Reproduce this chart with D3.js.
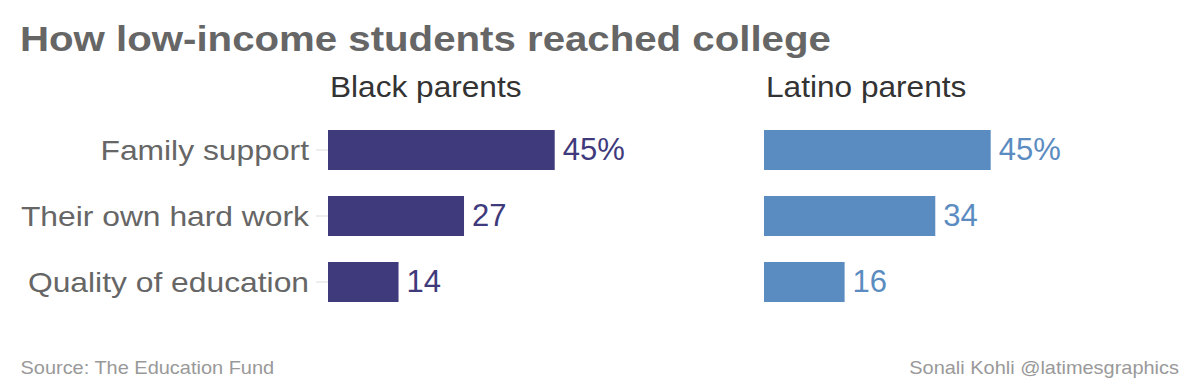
<!DOCTYPE html>
<html>
<head>
<meta charset="utf-8">
<script src="https://cdn.jsdelivr.net/npm/d3@7"></script>
<style>
  html, body { margin: 0; padding: 0; background: #fff; }
  svg text { font-family: "Liberation Sans", Arial, Helvetica, sans-serif; }
</style>
</head>
<body>
<svg id="chart" width="1200" height="382"></svg>
<script>
// ---- data ----
const categories = ["Family support", "Their own hard work", "Quality of education"];
const blackValues = [45, 27, 14];
const latinoValues = [45, 34, 16];
const panelTitles = ["Black parents", "Latino parents"];
const valueLabelsBlack = ["45%", "27", "14"];
const valueLabelsLatino = ["45%", "34", "16"];
const titleText = "How low-income students reached college";
const sourceText = "Source: The Education Fund";
const creditText = "Sonali Kohli @latimesgraphics";

// ---- layout ----
const svg = d3.select("#chart");

const y = d3.scaleBand()
  .domain(categories)
  .range([117, 315])
  .paddingInner(26 / 66)
  .paddingOuter(13 / 66);

const x = d3.scaleLinear().domain([0, 45]).range([0, 226.7]);

function stretch(sel, sx) {
  sel.each(function () {
    const len = this.getComputedTextLength();
    d3.select(this).attr("textLength", len * sx).attr("lengthAdjust", "spacingAndGlyphs");
  });
}

// title
const title = svg.append("text")
  .attr("x", 20).attr("y", 50.5)
  .attr("font-size", 35.5).attr("font-weight", "bold")
  .attr("fill", "#666")
  .text(titleText);
stretch(title, 1.2 * 33.5 / 35.5);

const panels = [
  { x0: 328, values: blackValues, labels: valueLabelsBlack, color: "#3f3a7b", title: panelTitles[0], ticks: true },
  { x0: 764, values: latinoValues, labels: valueLabelsLatino, color: "#5b8cc1", title: panelTitles[1], ticks: false }
];

panels.forEach(p => {
  const g = svg.append("g").attr("transform", `translate(${p.x0},0)`);

  const pt = g.append("text")
    .attr("x", 2).attr("y", 96.5)
    .attr("font-size", 30).attr("fill", "#333")
    .text(p.title);
  stretch(pt, 1.09 * 29 / 30);

  if (p.ticks) {
    const axis = d3.axisLeft(y).tickSize(12).tickPadding(7);
    const ax = g.append("g").call(axis);
    ax.select(".domain").remove();
    ax.selectAll(".tick line").attr("stroke", "#dddddd").attr("stroke-width", 1);
    ax.selectAll(".tick text")
      .attr("font-size", 28.5)
      .attr("fill", "#666")
      .attr("font-family", "Liberation Sans, Arial, sans-serif")
      .attr("dy", "0.35em");
    stretch(ax.selectAll(".tick text"), 1.2 * 26.5 / 28.5);
  }

  g.selectAll("rect.bar")
    .data(p.values)
    .join("rect")
    .attr("class", "bar")
    .attr("x", 0)
    .attr("y", (d, i) => y(categories[i]))
    .attr("width", d => x(d))
    .attr("height", y.bandwidth())
    .attr("fill", p.color);

  g.selectAll("text.val")
    .data(p.values)
    .join("text")
    .attr("class", "val")
    .attr("x", d => x(d) + 8)
    .attr("y", (d, i) => y(categories[i]) + y.bandwidth() / 2 + 9.5)
    .attr("font-size", 31)
    .attr("fill", p.color)
    .text((d, i) => p.labels[i]);
});

const src = svg.append("text")
  .attr("x", 20.5).attr("y", 374)
  .attr("font-size", 18.5).attr("fill", "#999")
  .text(sourceText);
stretch(src, 1.14 * 17.5 / 18.5);

const cr = svg.append("text")
  .attr("x", 1179).attr("y", 374)
  .attr("text-anchor", "end")
  .attr("font-size", 18.5).attr("fill", "#999")
  .text(creditText);
stretch(cr, 1.14 * 17.5 / 18.5);
</script>
</body>
</html>
